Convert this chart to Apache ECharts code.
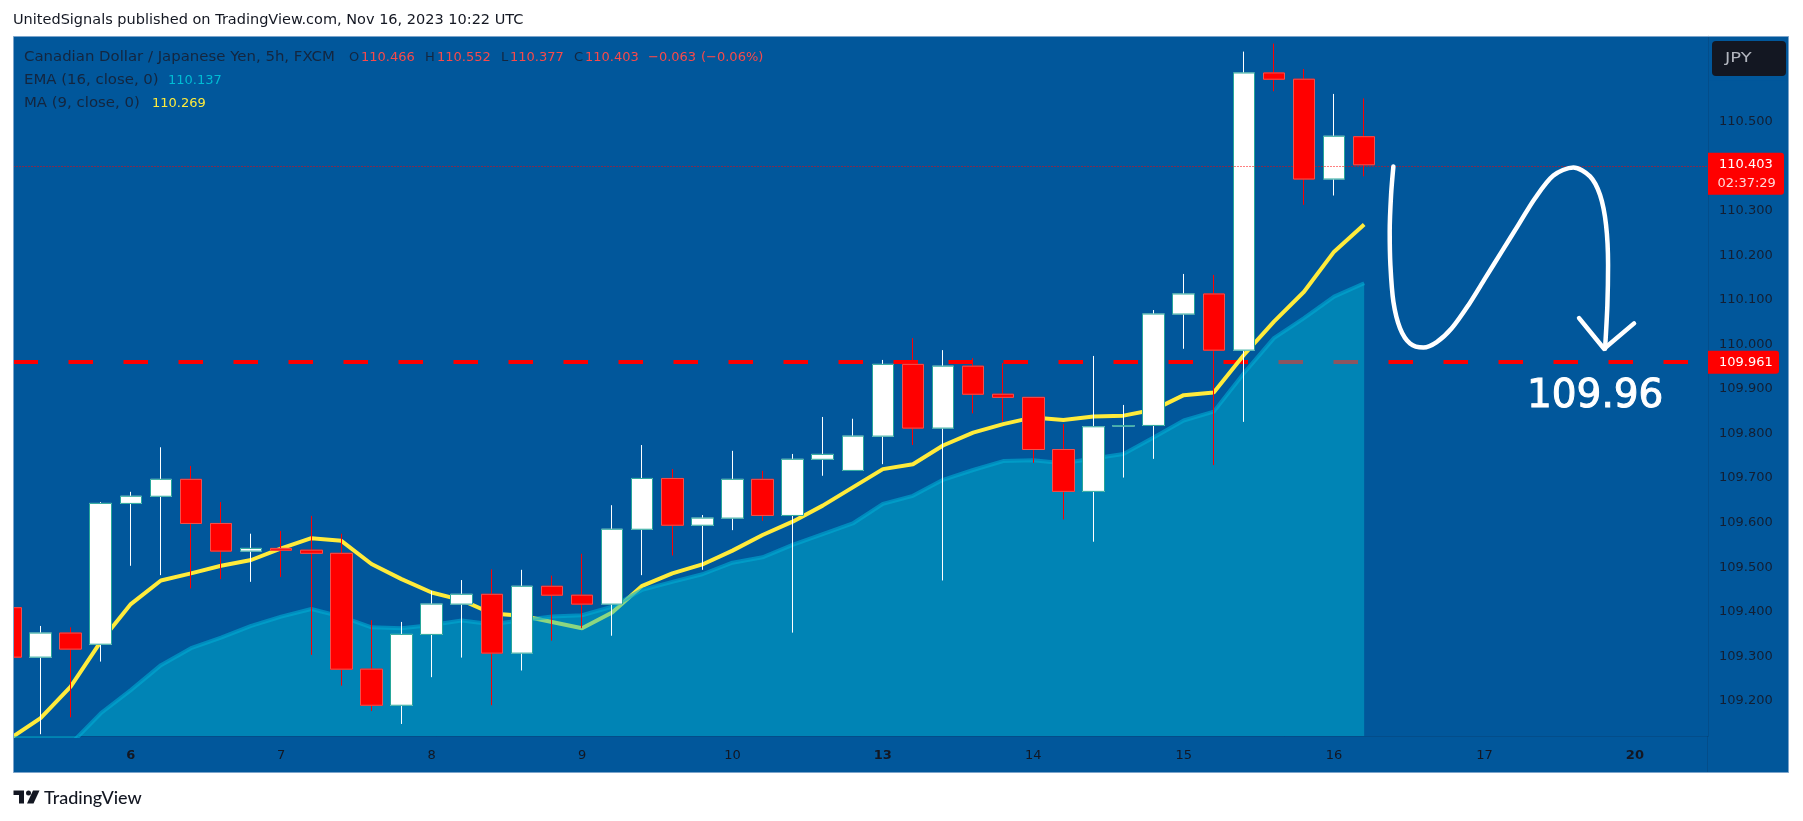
<!DOCTYPE html>
<html>
<head>
<meta charset="utf-8">
<title>CADJPY</title>
<style>
html, body { margin: 0; padding: 0; background: #fff; }
#main { width: 1803px; height: 821px; }
</style>
<script src="https://cdn.jsdelivr.net/npm/echarts@6/dist/echarts.min.js"></script>
</head>
<body>
<div id="main"></div>
<script>
// 5h bars. index 0 is the bar cut off by the left edge
var opens = [109.409,109.298,109.352,109.327,109.643,109.659,109.697,109.598,109.536,109.542,109.538,109.531,109.271,109.190,109.349,109.417,109.439,109.307,109.457,109.437,
  109.417,109.585,109.699,109.594,109.610,109.697,109.616,109.742,109.717,109.794,109.955,109.812,109.951,109.888,109.881,109.764,109.670,109.817,109.818,110.068,110.113,109.987,110.609,110.595,110.371,110.466];
var closes = [109.298,109.352,109.316,109.643,109.659,109.697,109.598,109.536,109.542,109.538,109.531,109.271,109.190,109.349,109.417,109.439,109.307,109.457,109.437,109.417,
  109.585,109.699,109.594,109.610,109.697,109.616,109.742,109.753,109.794,109.955,109.812,109.951,109.888,109.881,109.764,109.670,109.815,109.817,110.068,110.113,109.987,110.609,110.595,110.371,110.467,110.403];
var lows = [109.290,109.125,109.163,109.288,109.503,109.482,109.452,109.473,109.467,109.478,109.303,109.234,109.177,109.148,109.253,109.297,109.190,109.268,109.335,109.363,
  109.346,109.482,109.526,109.494,109.583,109.604,109.353,109.705,109.717,109.731,109.774,109.470,109.845,109.827,109.734,109.607,109.557,109.701,109.743,109.990,109.729,109.826,110.568,110.313,110.334,110.377];
var highs = [109.420,109.368,109.365,109.646,109.669,109.769,109.727,109.646,109.575,109.581,109.615,109.575,109.381,109.377,109.447,109.471,109.495,109.494,109.481,109.530,
  109.639,109.774,109.720,109.617,109.761,109.716,109.754,109.837,109.833,109.965,110.014,109.987,109.969,109.958,109.881,109.821,109.974,109.864,110.077,110.158,110.156,110.657,110.675,110.618,110.562,110.552];
var ema16 = [109.000,109.044,109.103,109.172,109.224,109.280,109.318,109.342,109.368,109.389,109.406,109.389,109.365,109.363,109.370,109.380,109.372,109.381,109.389,109.392,
  109.411,109.449,109.467,109.484,109.510,109.522,109.550,109.574,109.598,109.642,109.660,109.696,109.718,109.738,109.740,109.733,109.744,109.754,109.791,109.829,109.849,109.935,110.014,110.059,110.107,110.137];
var ma9 = [109.116,109.161,109.232,109.333,109.417,109.470,109.486,109.503,109.516,109.542,109.565,109.559,109.507,109.473,109.443,109.426,109.396,109.391,109.377,109.363,
  109.398,109.458,109.486,109.506,109.537,109.572,109.602,109.638,109.679,109.720,109.731,109.773,109.802,109.821,109.836,109.830,109.838,109.840,109.853,109.886,109.892,109.976,110.051,110.118,110.208,110.269];

var levelPrice = 109.961;
var lastPrice = 110.403;

var priceTicks = [109.2,109.3,109.4,109.5,109.6,109.7,109.8,109.9,110.0,110.1,110.2,110.3,110.4,110.5,110.6];
var dayTickBars = [4,9,14,19,24,29,34,39,44,49,54];
var dayLabels = ['6','7','8','9','10','13','14','15','16','17','20'];
var boldDays = ['6','13','20'];

// hand drawn forecast, [bar, price]
var forecastCurve = [[45.971,110.399],[45.894,110.335],[45.849,110.253],[45.872,110.178],[45.971,110.096],[46.193,110.036],[46.525,110.002],[46.969,109.993],[47.412,110.005],[47.910,110.036],[48.465,110.088],[49.019,110.148],[49.573,110.208],[50.127,110.268],[50.681,110.328],[51.290,110.379],[51.955,110.397],[52.509,110.377],[52.842,110.335],[53.041,110.268],[53.108,110.178],[53.085,110.088],[53.008,109.990]];
var forecastArrow = [[52.144,110.059],[52.975,109.990],[53.972,110.047]];
var forecastNote = [52.68,109.883];

var FONT = '"DejaVu Sans"';
var BG = '#01579b';
var DARK = '#131722';
var LEGEND_DARK = '#14263f';

function bars(arr) {
  return arr.map(function (v, i) { return [i, v]; });
}
var fullBars = opens.map(function (o, i) {
  return [i, o, closes[i], lows[i], highs[i]];
});
// bodies only, drawn over fullBars so the wicks keep their own colour
var bodyBars = opens.map(function (o, i) {
  return [i, o, closes[i], Math.min(o, closes[i]), Math.max(o, closes[i])];
});

var myChart = echarts.init(document.getElementById('main'));

var option = {
  animation: false,
  backgroundColor: '#fff',
  grid: { left: 13.5, right: 95, top: 36, bottom: 85 },
  xAxis: {
    type: 'value',
    min: 0.0997,
    max: 56.43,
    splitLine: { show: false },
    axisLine: { show: true, lineStyle: { color: 'rgba(19,23,34,0.14)', width: 1 } },
    axisTick: { show: false },
    axisLabel: {
      customValues: dayTickBars,
      margin: 13,
      color: DARK,
      fontFamily: FONT,
      fontSize: 13,
      formatter: function (v) {
        var d = dayLabels[dayTickBars.indexOf(v)];
        return boldDays.indexOf(d) >= 0 ? '{b|' + d + '}' : d;
      },
      rich: { b: { fontWeight: 'bold', fontFamily: FONT, fontSize: 13, color: DARK } }
    }
  },
  yAxis: {
    type: 'value',
    position: 'right',
    min: 109.121,
    max: 110.692,
    scale: true,
    splitLine: { show: false },
    axisLine: { show: true, lineStyle: { color: 'rgba(19,23,34,0.14)', width: 1 } },
    axisTick: { show: false },
    axisLabel: {
      customValues: priceTicks,
      margin: 11,
      color: '#131f33',
      fontFamily: FONT,
      fontSize: 13,
      formatter: function (v) { return v.toFixed(3); }
    }
  },
  series: [
    {
      name: 'MA',
      type: 'line',
      z: 2,
      data: bars(ma9),
      symbol: 'none',
      lineStyle: { color: '#ffeb3b', width: 4 },
      silent: true,
      markLine: {
        z: 1,
        silent: true,
        symbol: 'none',
        label: { show: false },
        lineStyle: { color: '#ff0000', width: 4, type: [24.5, 30.5], cap: 'butt' },
        data: [{ yAxis: levelPrice }]
      }
    },
    {
      name: 'EMA',
      type: 'line',
      z: 3,
      data: bars(ema16),
      symbol: 'none',
      lineStyle: { color: 'rgba(0,172,212,0.6)', width: 4 },
      areaStyle: { color: 'rgba(0,188,212,0.45)', origin: 'start', opacity: 1 },
      silent: true
    },
    {
      name: 'wicks',
      type: 'candlestick',
      z: 4,
      barWidth: 22,
      data: fullBars,
      silent: true,
      itemStyle: {
        color: '#ffffff', color0: '#ff0000',
        borderColor: '#ffffff', borderColor0: '#ff0000', borderColorDoji: '#ffffff',
        borderWidth: 1
      }
    },
    {
      name: 'bodies',
      type: 'candlestick',
      z: 5,
      barWidth: 22,
      data: bodyBars,
      silent: true,
      itemStyle: {
        color: '#ffffff', color0: '#ff0000',
        borderColor: '#26a69a', borderColor0: '#ef5350', borderColorDoji: '#26a69a',
        borderWidth: 1
      },
      markLine: {
        z: 6,
        silent: true,
        symbol: 'none',
        label: { show: false },
        lineStyle: { color: '#ff0000', width: 1, type: [1, 2] },
        data: [{ yAxis: lastPrice }]
      }
    },
    {
      name: 'forecast',
      type: 'line',
      z: 7,
      data: forecastCurve,
      symbol: 'none',
      smooth: 0.3,
      silent: true,
      lineStyle: { color: '#ffffff', width: 4.5, cap: 'round', join: 'round' }
    },
    {
      name: 'forecast arrow',
      type: 'line',
      z: 7,
      data: forecastArrow,
      symbol: 'none',
      silent: true,
      lineStyle: { color: '#ffffff', width: 4.5, cap: 'round', join: 'round' },
      markPoint: {
        silent: true,
        symbol: 'circle',
        symbolSize: 1,
        itemStyle: { color: 'rgba(0,0,0,0)' },
        label: {
          show: true, position: 'inside', color: '#ffffff', fontFamily: FONT, fontSize: 39,
          textBorderColor: '#ffffff', textBorderWidth: 1, formatter: '109.96'
        },
        data: [{ coord: forecastNote }]
      }
    }
  ],
  graphic: []
};
myChart.setOption(option);

// plain text piece, widen stretches it sideways (the legend letters run wider than its digits)
function txt(x, y, s, color, size, widen) {
  return {
    type: 'text', x: x, y: y, z: 22, silent: true, scaleX: widen || 1,
    style: { text: s, fill: color, font: (size || 13) + 'px ' + FONT, verticalAlign: 'middle' }
  };
}
var RED = '#f94a4a';
var yLast = myChart.convertToPixel({ yAxisIndex: 0 }, lastPrice);
var yLevel = myChart.convertToPixel({ yAxisIndex: 0 }, levelPrice);

var graphicEls = [
  { type: 'rect', z: -1, silent: true, shape: { x: 13.5, y: 36.5, width: 1775, height: 736 }, style: { fill: BG } },
  // keeps the first bar inside the pane
  { type: 'rect', z: 15, silent: true, shape: { x: 0, y: 36, width: 13, height: 737 }, style: { fill: '#fff' } },
  { type: 'rect', z: 16, silent: true, shape: { x: 13.5, y: 36.5, width: 1775, height: 736 }, style: { fill: 'none', stroke: '#7ba4cb', lineWidth: 1 } },
  { type: 'line', z: 1, silent: true, shape: { x1: 1707.5, y1: 736, x2: 1707.5, y2: 772 }, style: { stroke: 'rgba(19,23,34,0.14)', lineWidth: 1 } },
  // header
  txt(13, 20.5, 'UnitedSignals published on TradingView.com, Nov 16, 2023 10:22 UTC', DARK, 14.5),
  // legend
  txt(24, 57.5, 'Canadian Dollar / Japanese Yen, 5h, FXCM', LEGEND_DARK, 14, 1.065),
  txt(349, 57.5, 'O', LEGEND_DARK), txt(361, 57.5, '110.466', RED),
  txt(425, 57.5, 'H', LEGEND_DARK), txt(437, 57.5, '110.552', RED),
  txt(501, 57.5, 'L', LEGEND_DARK), txt(510, 57.5, '110.377', RED),
  txt(574, 57.5, 'C', LEGEND_DARK), txt(585, 57.5, '110.403', RED),
  txt(648, 57.5, '\u22120.063', RED), txt(701, 57.5, '(\u22120.06%)', RED),
  txt(24, 80.5, 'EMA (16, close, 0)', LEGEND_DARK, 14, 1.065), txt(168, 80.5, '110.137', '#00bcd4'),
  txt(24, 103.5, 'MA (9, close, 0)', LEGEND_DARK, 14, 1.065), txt(152, 103.5, '110.269', '#ffeb3b'),
  // currency button, with a margin of pane colour that eats the top of the 110.600 label
  { type: 'rect', z: 19, silent: true, shape: { x: 1709, y: 37, width: 79, height: 43.5 }, style: { fill: BG } },
  { type: 'rect', z: 20, silent: true, shape: { x: 1712, y: 41, width: 74, height: 35, r: 4 }, style: { fill: '#131722' } },
  txt(1725, 58.5, 'JPY', '#b2b5be', 14, 1.28),
  // price tags
  { type: 'rect', z: 21, silent: true, shape: { x: 1708, y: yLast - 12, width: 76, height: 42, r: [0, 3, 3, 0] }, style: { fill: '#ff0000' } },
  txt(1719, yLast, '110.403', '#ffffff'),
  txt(1717.5, yLast + 19, '02:37:29', '#ffd9d9'),
  { type: 'rect', z: 21, silent: true, shape: { x: 1708, y: yLevel - 11, width: 71, height: 23, r: [0, 3, 3, 0] }, style: { fill: '#ff0000' } },
  txt(1719, yLevel + 0.5, '109.961', '#ffffff'),
  // logo
  { type: 'polygon', z: 20, silent: true, shape: { points: [[13.5,790.5],[24,790.5],[24,803.5],[19,803.5],[19,795],[13.5,795]] }, style: { fill: DARK } },
  { type: 'circle', z: 20, silent: true, shape: { cx: 28.5, cy: 793, r: 2.5 }, style: { fill: DARK } },
  { type: 'polygon', z: 20, silent: true, shape: { points: [[33,790.5],[39.5,790.5],[33.5,803.5],[27,803.5]] }, style: { fill: DARK } },
  {
    type: 'text', x: 44, y: 798, z: 20, silent: true,
    style: { text: 'TradingView', fill: DARK, font: '500 18px Lato', verticalAlign: 'middle' }
  }
];
myChart.setOption({ graphic: graphicEls });
</script>
</body>
</html>
